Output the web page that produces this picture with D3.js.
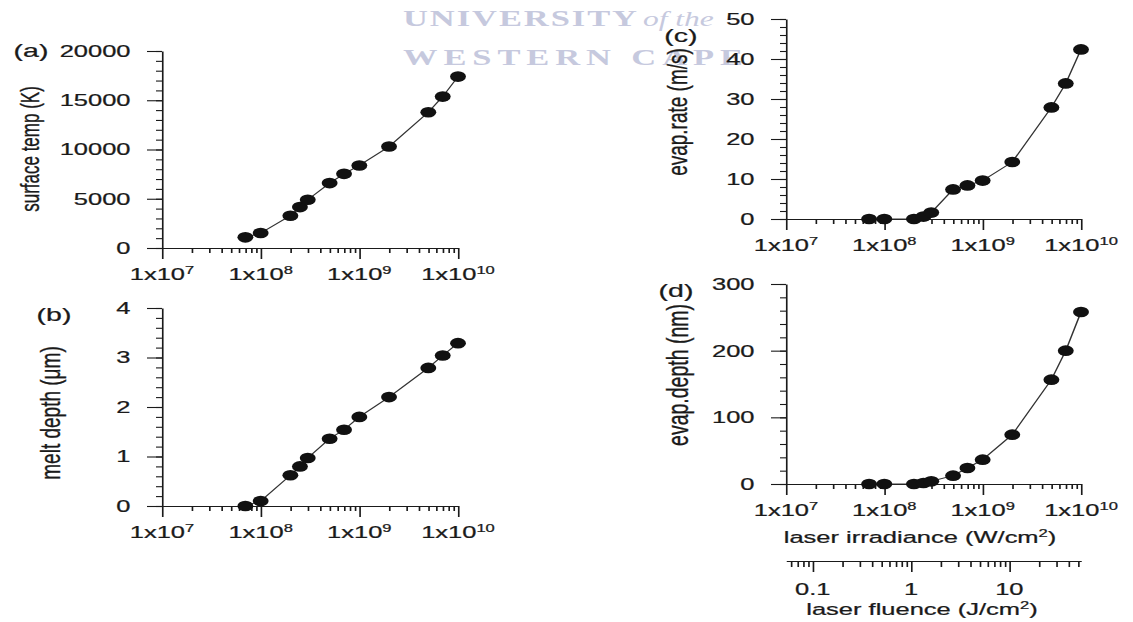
<!DOCTYPE html>
<html>
<head>
<meta charset="utf-8">
<script src="https://cdn.jsdelivr.net/npm/d3@7"></script>
<style>
  body { margin: 0; background: #fff; }
  svg { display: block; font-family: "Liberation Sans", Arial, sans-serif; }
  .lbl { stroke: #1a1a1a; stroke-width: 0.25px; }
</style>
</head>
<body>
<svg id="chart" width="1133" height="622"></svg>
<script>
// values
const irradiance = [7e7, 1e8, 2e8, 2.5e8, 3e8, 5e8, 7e8, 1e9, 2e9, 5e9, 7e9, 1e10];
const surfaceTemp = [1080, 1520, 3280, 4150, 4900, 6590, 7530, 8380, 10300, 13780, 15370, 17400];
const meltDepth = [0, 0.1, 0.62, 0.8, 0.97, 1.36, 1.54, 1.8, 2.2, 2.79, 3.04, 3.29];
const evapRate = [0, 0, 0, 0.6, 1.6, 7.4, 8.4, 9.6, 14.25, 27.9, 33.9, 42.4];
const evapDepth = [0, 0, 0, 1.5, 4, 12.5, 24, 36.5, 74, 156.5, 200, 258];

const irrDomain = [1e7, 1e10];
const irrTicks = [1e7, 1e8, 1e9, 1e10];
const fluenceDomain = [0.0535, 53.5];
const fluenceTicks = [0.1, 1, 10];

// the scanned figure is stretched sideways, so everything is drawn in a squeezed frame
const SX = 1.5;
const px = v => v / SX;
const ink = '#1a1a1a';

const svg = d3.select('#chart');
const root = svg.append('g').attr('transform', `scale(${SX},1)`);

//watermark (behind everything)
const wm = root.append('g')
  .attr('fill', '#c6c9de')
  .style('font-family', '"Liberation Serif", "DejaVu Serif", serif')
  .style('font-weight', 'bold')
  .style('font-size', '23px');
wm.append('text')
  .attr('x', px(403)).attr('y', 26)
  .attr('textLength', px(234)).attr('lengthAdjust', 'spacing')
  .text('UNIVERSITY');
wm.append('text')
  .attr('x', px(643)).attr('y', 26)
  .style('font-style', 'italic')
  .style('font-weight', 'normal')
  .style('font-size', '21px')
  .text('of the');
wm.append('text')
  .attr('x', px(403)).attr('y', 65)
  .attr('textLength', px(340)).attr('lengthAdjust', 'spacing')
  .text('WESTERN CAPE');

const panels = [
  { tag: '(a)', values: surfaceTemp, yMax: 20000, yStep: 5000, yMinor: 1000,
    x0: 162, x1: 458, top: 51, bottom: 248,
    tagX: 31, tagY: 57, title: 'surface temp (K)', titleX: 30, titleY: 149, titleSize: 17 },
  { tag: '(b)', values: meltDepth, yMax: 4, yStep: 1, yMinor: 0.2,
    x0: 162, x1: 458, top: 308, bottom: 506,
    tagX: 54, tagY: 321, title: 'melt depth (\u03bcm)', titleX: 50, titleY: 413, titleSize: 19 },
  { tag: '(c)', values: evapRate, yMax: 50, yStep: 10, yMinor: 2,
    x0: 786, x1: 1081, top: 19, bottom: 219,
    tagX: 681, tagY: 42, title: 'evap.rate (m/s)', titleX: 677, titleY: 112, titleSize: 19 },
  { tag: '(d)', values: evapDepth, yMax: 300, yStep: 100, yMinor: 20,
    x0: 786, x1: 1081, top: 284, bottom: 484,
    tagX: 676, tagY: 297, title: 'evap.depth (nm)', titleX: 678, titleY: 375, titleSize: 19.5 }
];

const styleAxis = sel => {
  sel.selectAll('path, line').attr('stroke', ink).attr('stroke-width', 1.1);
  sel.selectAll('text').attr('fill', ink).attr('class', 'lbl').style('font-size', '17px')
    .style('font-family', '"Liberation Sans", Arial, sans-serif');
};

const drawPanel = (p) => {
  const g = root.append('g').attr('class', 'panel');

  const xScale = d3.scaleLog().domain(irrDomain).range([px(p.x0), px(p.x1)]);
  const yScale = d3.scaleLinear().domain([0, p.yMax]).range([p.bottom, p.top]);

  //minor y ticks
  g.append('g')
    .attr('transform', `translate(${px(p.x0)},0)`)
    .call(d3.axisLeft(yScale)
      .tickValues(d3.range(0, p.yMax + p.yMinor / 2, p.yMinor))
      .tickSize(4).tickFormat(''))
    .call(a => a.select('.domain').remove())
    .call(styleAxis);

  //major y ticks
  g.append('g')
    .attr('transform', `translate(${px(p.x0)},0)`)
    .call(d3.axisLeft(yScale)
      .tickValues(d3.range(0, p.yMax + p.yStep / 2, p.yStep))
      .tickSize(10).tickSizeOuter(0).tickPadding(11)
      .tickFormat(d3.format('d')))
    .call(styleAxis);

  //minor x ticks
  const minor = xScale.ticks().filter(d => !irrTicks.includes(d));
  g.append('g')
    .attr('transform', `translate(0,${p.bottom})`)
    .call(d3.axisBottom(xScale).tickValues(minor).tickSize(5).tickFormat(''))
    .call(a => a.select('.domain').remove())
    .call(styleAxis);

  //major x ticks
  g.append('g')
    .attr('transform', `translate(0,${p.bottom})`)
    .call(d3.axisBottom(xScale).tickValues(irrTicks).tickSize(11).tickSizeOuter(0).tickFormat(''))
    .call(styleAxis);

  //x tick labels, 1x10^n
  const xl = g.append('g').selectAll('text')
    .data(irrTicks)
    .join('text')
    .attr('class', 'lbl')
    .attr('x', d => xScale(d))
    .attr('y', p.bottom + 32)
    .attr('text-anchor', 'middle')
    .attr('fill', ink)
    .style('font-size', '17px');
  xl.append('tspan').text('1x10');
  xl.append('tspan')
    .attr('dy', -6)
    .style('font-size', '11px')
    .text(d => Math.round(Math.log10(d)));

  //line and dots
  const pts = irradiance.map((v, i) => [v, p.values[i]]);
  g.append('path')
    .datum(pts)
    .attr('d', d3.line().x(d => xScale(d[0])).y(d => yScale(d[1])))
    .attr('fill', 'none')
    .attr('stroke', '#333')
    .attr('stroke-width', 1);

  g.selectAll('.dot')
    .data(pts)
    .join('circle')
    .attr('class', 'dot')
    .attr('cx', d => xScale(d[0]))
    .attr('cy', d => yScale(d[1]))
    .attr('r', 5.3)
    .attr('fill', '#111');

  //panel letter
  g.append('text')
    .attr('class', 'lbl')
    .attr('x', px(p.tagX))
    .attr('y', p.tagY)
    .attr('text-anchor', 'middle')
    .attr('fill', ink)
    .style('font-size', '19px')
    .text(p.tag);

  //y title
  g.append('text')
    .attr('class', 'lbl')
    .attr('transform', `translate(${px(p.titleX)},${p.titleY}) rotate(-90)`)
    .attr('text-anchor', 'middle')
    .attr('dy', '0.35em')
    .attr('fill', ink)
    .style('font-size', p.titleSize + 'px')
    .text(p.title);

  return xScale;
};

panels.forEach(drawPanel);

//bottom titles and the fluence axis under panel (d)
const irrTitle = root.append('text')
  .attr('class', 'lbl')
  .attr('x', px(920)).attr('y', 543)
  .attr('text-anchor', 'middle')
  .attr('fill', ink)
  .style('font-size', '17px');
irrTitle.append('tspan').text('laser irradiance (W/cm');
irrTitle.append('tspan').attr('dy', -6).style('font-size', '11px').text('2');
irrTitle.append('tspan').attr('dy', 6).text(')');

const fScale = d3.scaleLog().domain(fluenceDomain).range([px(786), px(1081)]);
const fluenceY = 561;

root.append('g')
  .attr('transform', `translate(0,${fluenceY})`)
  .call(d3.axisBottom(fScale)
    .tickValues(fScale.ticks().filter(d => !fluenceTicks.includes(d)))
    .tickSize(6).tickSizeOuter(0).tickFormat(''))
  .call(styleAxis);

root.append('g')
  .attr('transform', `translate(0,${fluenceY})`)
  .call(d3.axisBottom(fScale).tickValues(fluenceTicks).tickSize(11).tickSizeOuter(0).tickFormat(''))
  .call(a => a.select('.domain').remove())
  .call(styleAxis);

root.append('g').selectAll('text')
  .data(fluenceTicks)
  .join('text')
  .attr('class', 'lbl')
  .attr('x', d => fScale(d))
  .attr('y', fluenceY + 34)
  .attr('text-anchor', 'middle')
  .attr('fill', ink)
  .style('font-size', '17px')
  .text(d => d3.format('~g')(d));

const fTitle = root.append('text')
  .attr('class', 'lbl')
  .attr('x', px(922)).attr('y', 615)
  .attr('text-anchor', 'middle')
  .attr('fill', ink)
  .style('font-size', '17px');
fTitle.append('tspan').text('laser fluence (J/cm');
fTitle.append('tspan').attr('dy', -6).style('font-size', '11px').text('2');
fTitle.append('tspan').attr('dy', 6).text(')');
</script>
</body>
</html>
